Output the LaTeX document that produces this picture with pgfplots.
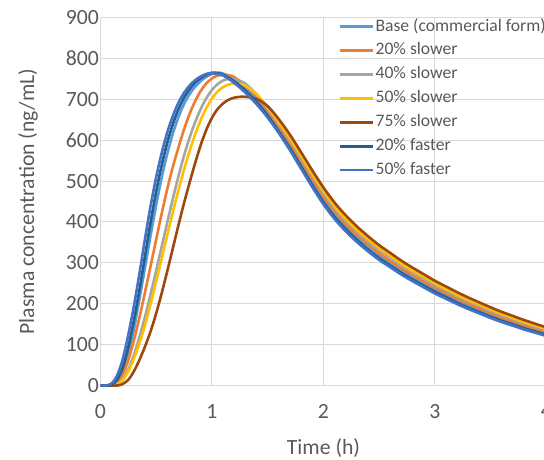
\documentclass[border=0pt]{standalone}
\usepackage{fontspec}
\setmainfont{Carlito}
\usepackage{pgfplots}
\pgfplotsset{compat=1.18}
\definecolor{cbase}{HTML}{5B9BD5}
\definecolor{cslow20}{HTML}{ED7D31}
\definecolor{cslow40}{HTML}{A5A5A5}
\definecolor{cslow50}{HTML}{FFC000}
\definecolor{cslow75}{HTML}{9E480E}
\definecolor{cfast20}{HTML}{255E91}
\definecolor{cfast50}{HTML}{4472C4}
\definecolor{gridgray}{HTML}{D9D9D9}
\definecolor{labgray}{HTML}{595959}
\newcommand\bigfont{\fontsize{21.7}{26}\selectfont}
\newcommand\legfont{\fontsize{17.6}{21}\selectfont}

\begin{document}
\begin{tikzpicture}
\begin{axis}[
    scale only axis,
    width=446pt, height=368pt,
    xmin=0, xmax=4, ymin=0, ymax=900,
    xtick={0,1,2,3,4},
    ytick={0,100,...,900},
    grid=major,
    major grid style={color=gridgray, line width=1pt},
    axis line style={draw=none},
    tick style={draw=none},
    clip=false,
    /pgf/number format/assume math mode=true,
    ticklabel style={font=\bigfont, text=labgray},
    xticklabel style={yshift=-15pt},
    yticklabel style={xshift=2pt},
    xlabel={Time (h)},
    ylabel={Plasma concentration (ng/mL)},
    every axis x label/.style={at={(axis description cs:0.5,-0.170)}, anchor=center, font=\bigfont, text=labgray},
    every axis y label/.style={at={(axis description cs:-0.1626,0.5)}, rotate=90, anchor=center, font=\bigfont, text=labgray},
    legend style={at={(axis cs:2.139,900)}, anchor=north west, draw=none, fill=none,
        inner sep=0pt, outer sep=0pt, font=\legfont, text=labgray,
        nodes={inner sep=1pt, text height=12.5pt, text depth=4pt},
        row sep=5.4pt},
    legend cell align=left,
    legend image code/.code={\draw[#1] (0pt,0pt) -- (33pt,0pt);},
    every axis plot/.append style={line width=2.6pt, smooth},
]
% Base (commercial form)
\addplot[color=cbase] coordinates {
(0,0) (0.05,0) (0.10,1) (0.15,8) (0.20,32) (0.25,76) (0.30,138) (0.35,212) (0.40,290)
(0.45,368) (0.50,442) (0.55,510) (0.60,568) (0.65,617) (0.70,657) (0.75,689) (0.80,713)
(0.85,731) (0.90,745) (0.95,755) (1.00,762) (1.05,765) (1.1,763) (1.2,750) (1.3,727)
(1.4,699) (1.5,665) (1.6,626) (1.7,585) (1.8,540) (1.9,495) (2.0,453) (2.1,417) (2.2,387)
(2.3,361) (2.4,337) (2.5,316) (2.6,298) (2.7,280) (2.8,263) (2.9,248) (3.0,233) (3.1,220)
(3.2,206) (3.3,194) (3.4,183) (3.5,172) (3.6,161) (3.7,152) (3.8,143) (3.9,135) (4.0,126)
};
\addlegendentry{Base (commercial form)}
% 20% slower
\addplot[color=cslow20] coordinates {
(0,0) (0.05,0) (0.10,1) (0.15,7) (0.20,28) (0.25,63) (0.30,111) (0.35,167) (0.40,229)
(0.45,293) (0.50,358) (0.55,422) (0.60,482) (0.65,536) (0.70,583) (0.75,627) (0.80,665)
(0.85,696) (0.90,721) (0.95,739) (1.00,751) (1.05,758) (1.10,760) (1.15,759) (1.2,754)
(1.3,734) (1.4,706) (1.5,672) (1.6,632) (1.7,592) (1.8,548) (1.9,504) (2.0,462) (2.1,425)
(2.2,395) (2.3,368) (2.4,345) (2.5,323) (2.6,304) (2.7,286) (2.8,270) (2.9,254) (3.0,239)
(3.1,226) (3.2,212) (3.3,200) (3.4,188) (3.5,177) (3.6,166) (3.7,157) (3.8,147) (3.9,139) (4.0,131)
};
\addlegendentry{20\% slower}
% 40% slower
\addplot[color=cslow40] coordinates {
(0,0) (0.10,0) (0.15,4) (0.20,17) (0.25,41) (0.30,75) (0.35,119) (0.40,169) (0.45,224)
(0.50,282) (0.55,341) (0.60,400) (0.65,458) (0.70,513) (0.75,563) (0.80,607) (0.85,645)
(0.90,677) (0.95,703) (1.00,723) (1.05,737) (1.10,746) (1.15,750) (1.2,749) (1.25,745)
(1.3,738) (1.4,712) (1.5,678) (1.6,639) (1.7,600) (1.8,556) (1.9,512) (2.0,470) (2.1,433)
(2.2,402) (2.3,376) (2.4,352) (2.5,331) (2.6,312) (2.7,293) (2.8,277) (2.9,261) (3.0,245)
(3.1,232) (3.2,218) (3.3,205) (3.4,194) (3.5,182) (3.6,171) (3.7,162) (3.8,152) (3.9,144) (4.0,135)
};
\addlegendentry{40\% slower}
% 50% slower
\addplot[color=cslow50] coordinates {
(0,0) (0.10,0) (0.15,2) (0.20,13) (0.25,35) (0.30,66) (0.35,104) (0.40,149) (0.45,200)
(0.50,255) (0.55,312) (0.60,369) (0.65,425) (0.70,479) (0.75,529) (0.80,574) (0.85,615)
(0.90,650) (0.95,679) (1.00,702) (1.05,719) (1.10,730) (1.15,736) (1.20,738) (1.25,737)
(1.3,733) (1.4,712) (1.5,681) (1.6,644) (1.7,605) (1.8,562) (1.9,518) (2.0,476) (2.1,439)
(2.2,408) (2.3,381) (2.4,358) (2.5,336) (2.6,317) (2.7,298) (2.8,281) (2.9,266) (3.0,250)
(3.1,236) (3.2,222) (3.3,209) (3.4,198) (3.5,186) (3.6,175) (3.7,165) (3.8,155) (3.9,147) (4.0,138)
};
\addlegendentry{50\% slower}
% 75% slower
\addplot[color=cslow75] coordinates {
(0,0) (0.15,0) (0.20,4) (0.25,14) (0.30,35) (0.35,63) (0.40,96) (0.45,133) (0.50,177)
(0.55,227) (0.60,281) (0.65,337) (0.70,393) (0.75,447) (0.80,497) (0.85,545) (0.90,589)
(0.95,626) (1.00,655) (1.05,676) (1.10,690) (1.15,699) (1.20,704) (1.25,706) (1.3,706)
(1.4,701) (1.5,683) (1.6,651) (1.7,613) (1.8,570) (1.9,526) (2.0,484) (2.1,447) (2.2,416)
(2.3,389) (2.4,365) (2.5,343) (2.6,324) (2.7,305) (2.8,288) (2.9,272) (3.0,256) (3.1,242)
(3.2,228) (3.3,215) (3.4,203) (3.5,191) (3.6,180) (3.7,170) (3.8,160) (3.9,151) (4.0,142)
};
\addlegendentry{75\% slower}
% 20% faster
\addplot[color=cfast20] coordinates {
(0,0) (0.05,0) (0.10,2) (0.15,14) (0.20,44) (0.25,95) (0.30,160) (0.35,235) (0.40,318)
(0.45,400) (0.50,475) (0.55,540) (0.60,595) (0.65,640) (0.70,676) (0.75,704) (0.80,725)
(0.85,741) (0.90,752) (0.95,760) (1.00,765) (1.05,764) (1.1,760) (1.2,744) (1.3,721)
(1.4,693) (1.5,660) (1.6,621) (1.7,580) (1.8,535) (1.9,490) (2.0,448) (2.1,412) (2.2,382)
(2.3,356) (2.4,332) (2.5,311) (2.6,293) (2.7,275) (2.8,259) (2.9,244) (3.0,229) (3.1,216)
(3.2,202) (3.3,190) (3.4,179) (3.5,168) (3.6,158) (3.7,149) (3.8,140) (3.9,132) (4.0,124)
};
\addlegendentry{20\% faster}
% 50% faster
\addplot[color=cfast50] coordinates {
(0,0) (0.05,0) (0.10,5) (0.15,25) (0.20,65) (0.25,125) (0.30,195) (0.35,275) (0.40,360)
(0.45,440) (0.50,510) (0.55,570) (0.60,620) (0.65,660) (0.70,692) (0.75,716) (0.80,734)
(0.85,747) (0.90,756) (0.95,762) (1.00,764) (1.1,758) (1.2,740) (1.3,716) (1.4,688)
(1.5,655) (1.6,617) (1.7,575) (1.8,530) (1.9,485) (2.0,443) (2.1,407) (2.2,377) (2.3,351)
(2.4,328) (2.5,307) (2.6,289) (2.7,271) (2.8,255) (2.9,240) (3.0,225) (3.1,212) (3.2,199)
(3.3,187) (3.4,176) (3.5,165) (3.6,155) (3.7,146) (3.8,137) (3.9,129) (4.0,121)
};
\addlegendentry{50\% faster}
\end{axis}
\pgfresetboundingbox
\useasboundingbox (-100.5pt,-73.5pt) rectangle (443.5pt,385.5pt);
\end{tikzpicture}
\end{document}
